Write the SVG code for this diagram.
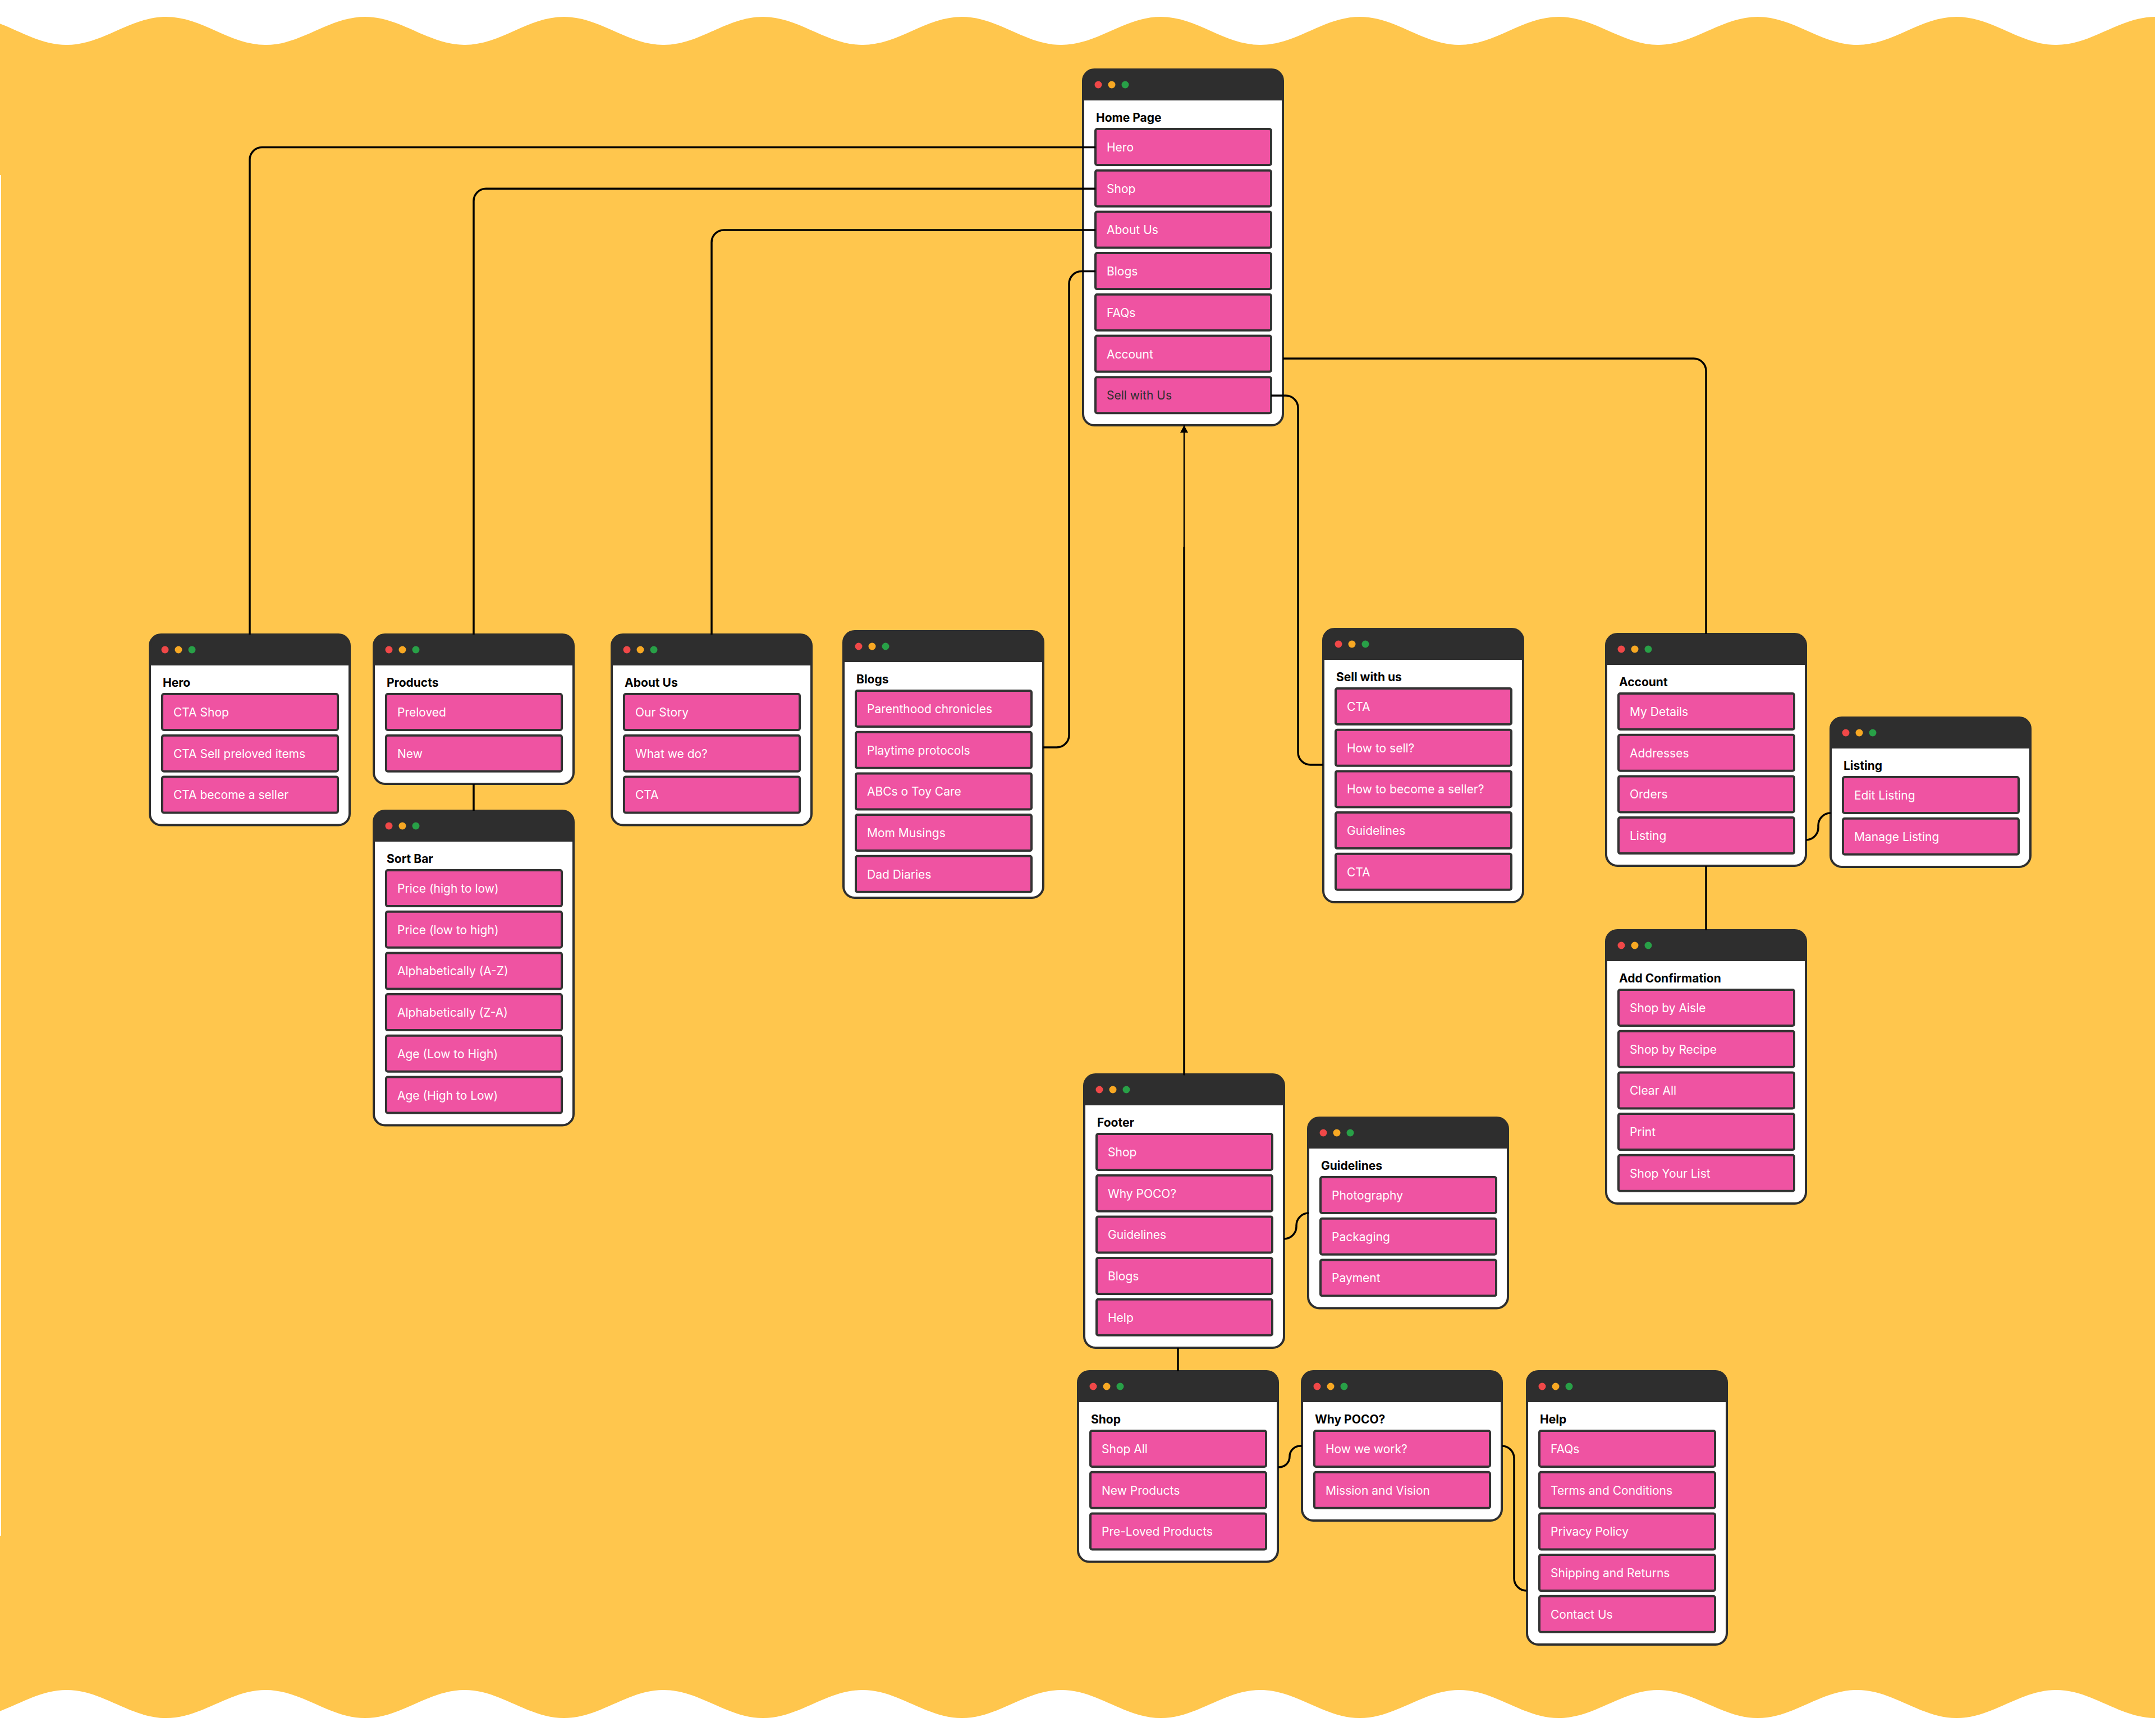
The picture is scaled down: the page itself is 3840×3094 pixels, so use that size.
<svg xmlns="http://www.w3.org/2000/svg" width="3840" height="3094" viewBox="0 0 3840 3094">
<style>
.bg{fill:#FFC64D}
.frame{fill:#fff}
.edge{fill:none;stroke:#2E2E2E;stroke-width:4}
.bar{fill:#2E2E2E}
.r{fill:#F04848}.o{fill:#F7A823}.g{fill:#28A047}
.item{fill:#EF53A2;stroke:#333;stroke-width:4}
.title{font-family:Inter,"Liberation Sans",sans-serif;font-weight:700;font-size:21px;fill:#000}
.label{font-family:Inter,"Liberation Sans",sans-serif;font-size:21px;fill:#fff}
.label.dark{fill:#2E2E2E}
.conn{fill:none;stroke:#000;stroke-width:3.5}
</style>
<defs>
<g id="chrome">
<path class="bar" d="M0,55 V20 A20,20 0 0 1 20,0 H336 A20,20 0 0 1 356,20 V55 Z"/>
<circle class="r" cx="27" cy="27" r="6.5"/>
<circle class="o" cx="51" cy="27" r="6.5"/>
<circle class="g" cx="75" cy="27" r="6.5"/>
</g>
<marker id="arrow" markerUnits="userSpaceOnUse" markerWidth="14" markerHeight="14" viewBox="0 0 14 14" refX="13" refY="7" orient="auto">
<path d="M0,0 L13,7 L0,14 Z" fill="#000"/>
</marker>
</defs>

<path class="bg" d="M -58.5,30 C 5.9,30 54.15,80 118.75,80 S 231.4,30 296,30 S 408.65,80 473.25,80 S 585.9,30 650.5,30 S 763.15,80 827.75,80 S 940.4,30 1005,30 S 1117.65,80 1182.25,80 S 1294.9,30 1359.5,30 S 1472.15,80 1536.75,80 S 1649.4,30 1714,30 S 1826.65,80 1891.25,80 S 2003.9,30 2068.5,30 S 2181.15,80 2245.75,80 S 2358.4,30 2423,30 S 2535.65,80 2600.25,80 S 2712.9,30 2777.5,30 S 2890.15,80 2954.75,80 S 3067.4,30 3132,30 S 3244.65,80 3309.25,80 S 3421.9,30 3486.5,30 S 3599.15,80 3663.75,80 S 3776.4,30 3841,30 S 3953.65,80 4018.25,80 L 4018.25,3012 C 3953.65,3012 3905.6,3062 3841,3062 S 3728.35,3012 3663.75,3012 S 3551.1,3062 3486.5,3062 S 3373.85,3012 3309.25,3012 S 3196.6,3062 3132,3062 S 3019.35,3012 2954.75,3012 S 2842.1,3062 2777.5,3062 S 2664.85,3012 2600.25,3012 S 2487.6,3062 2423,3062 S 2310.35,3012 2245.75,3012 S 2133.1,3062 2068.5,3062 S 1955.85,3012 1891.25,3012 S 1778.6,3062 1714,3062 S 1601.35,3012 1536.75,3012 S 1424.1,3062 1359.5,3062 S 1246.85,3012 1182.25,3012 S 1069.6,3062 1005,3062 S 892.35,3012 827.75,3012 S 715.1,3062 650.5,3062 S 537.85,3012 473.25,3012 S 360.6,3062 296,3062 S 183.35,3012 118.75,3012 S 6.1,3062 -58.5,3062 Z"/>
<rect x="0" y="312" width="2" height="2425" fill="#fff"/>

<g id="node-home" transform="translate(1930,124)">
<rect class="frame" width="356" height="634" rx="20"/><use href="#chrome"/><rect class="edge" width="356" height="634" rx="20"/>
<text class="title" x="23" y="93">Home Page</text>
<rect class="item" x="22" y="106" width="313" height="64" rx="3"/><text class="label" x="42" y="146">Hero</text>
<rect class="item" x="22" y="179.7" width="313" height="64" rx="3"/><text class="label" x="42" y="219.7">Shop</text>
<rect class="item" x="22" y="253.4" width="313" height="64" rx="3"/><text class="label" x="42" y="293.4">About Us</text>
<rect class="item" x="22" y="327.1" width="313" height="64" rx="3"/><text class="label" x="42" y="367.1">Blogs</text>
<rect class="item" x="22" y="400.8" width="313" height="64" rx="3"/><text class="label" x="42" y="440.8">FAQs</text>
<rect class="item" x="22" y="474.5" width="313" height="64" rx="3"/><text class="label" x="42" y="514.5">Account</text>
<rect class="item" x="22" y="548.2" width="313" height="64" rx="3"/><text class="label dark" x="42" y="588.2">Sell with Us</text>
</g>

<g id="node-hero" transform="translate(267,1131)">
<rect class="frame" width="356" height="339.5" rx="20"/><use href="#chrome"/><rect class="edge" width="356" height="339.5" rx="20"/>
<text class="title" x="23" y="93">Hero</text>
<rect class="item" x="22" y="106" width="313" height="64" rx="3"/><text class="label" x="42" y="146">CTA Shop</text>
<rect class="item" x="22" y="179.7" width="313" height="64" rx="3"/><text class="label" x="42" y="219.7">CTA Sell preloved items</text>
<rect class="item" x="22" y="253.4" width="313" height="64" rx="3"/><text class="label" x="42" y="293.4">CTA become a seller</text>
</g>

<g id="node-products" transform="translate(666,1131)">
<rect class="frame" width="356" height="266" rx="20"/><use href="#chrome"/><rect class="edge" width="356" height="266" rx="20"/>
<text class="title" x="23" y="93">Products</text>
<rect class="item" x="22" y="106" width="313" height="64" rx="3"/><text class="label" x="42" y="146">Preloved</text>
<rect class="item" x="22" y="179.7" width="313" height="64" rx="3"/><text class="label" x="42" y="219.7">New</text>
</g>

<g id="node-sortbar" transform="translate(666,1445)">
<rect class="frame" width="356" height="560.5" rx="20"/><use href="#chrome"/><rect class="edge" width="356" height="560.5" rx="20"/>
<text class="title" x="23" y="93">Sort Bar</text>
<rect class="item" x="22" y="106" width="313" height="64" rx="3"/><text class="label" x="42" y="146">Price (high to low)</text>
<rect class="item" x="22" y="179.7" width="313" height="64" rx="3"/><text class="label" x="42" y="219.7">Price (low to high)</text>
<rect class="item" x="22" y="253.4" width="313" height="64" rx="3"/><text class="label" x="42" y="293.4">Alphabetically (A-Z)</text>
<rect class="item" x="22" y="327.1" width="313" height="64" rx="3"/><text class="label" x="42" y="367.1">Alphabetically (Z-A)</text>
<rect class="item" x="22" y="400.8" width="313" height="64" rx="3"/><text class="label" x="42" y="440.8">Age (Low to High)</text>
<rect class="item" x="22" y="474.5" width="313" height="64" rx="3"/><text class="label" x="42" y="514.5">Age (High to Low)</text>
</g>

<g id="node-about" transform="translate(1090,1131)">
<rect class="frame" width="356" height="339.5" rx="20"/><use href="#chrome"/><rect class="edge" width="356" height="339.5" rx="20"/>
<text class="title" x="23" y="93">About Us</text>
<rect class="item" x="22" y="106" width="313" height="64" rx="3"/><text class="label" x="42" y="146">Our Story</text>
<rect class="item" x="22" y="179.7" width="313" height="64" rx="3"/><text class="label" x="42" y="219.7">What we do?</text>
<rect class="item" x="22" y="253.4" width="313" height="64" rx="3"/><text class="label" x="42" y="293.4">CTA</text>
</g>

<g id="node-blogs" transform="translate(1503,1125)">
<rect class="frame" width="356" height="475" rx="20"/><use href="#chrome"/><rect class="edge" width="356" height="475" rx="20"/>
<text class="title" x="23" y="93">Blogs</text>
<rect class="item" x="22" y="106" width="313" height="64" rx="3"/><text class="label" x="42" y="146">Parenthood chronicles</text>
<rect class="item" x="22" y="179.7" width="313" height="64" rx="3"/><text class="label" x="42" y="219.7">Playtime protocols</text>
<rect class="item" x="22" y="253.4" width="313" height="64" rx="3"/><text class="label" x="42" y="293.4">ABCs o Toy Care</text>
<rect class="item" x="22" y="327.1" width="313" height="64" rx="3"/><text class="label" x="42" y="367.1">Mom Musings</text>
<rect class="item" x="22" y="400.8" width="313" height="64" rx="3"/><text class="label" x="42" y="440.8">Dad Diaries</text>
</g>

<g id="node-sell" transform="translate(2358,1121)">
<rect class="frame" width="356" height="487" rx="20"/><use href="#chrome"/><rect class="edge" width="356" height="487" rx="20"/>
<text class="title" x="23" y="93">Sell with us</text>
<rect class="item" x="22" y="106" width="313" height="64" rx="3"/><text class="label" x="42" y="146">CTA</text>
<rect class="item" x="22" y="179.7" width="313" height="64" rx="3"/><text class="label" x="42" y="219.7">How to sell?</text>
<rect class="item" x="22" y="253.4" width="313" height="64" rx="3"/><text class="label" x="42" y="293.4">How to become a seller?</text>
<rect class="item" x="22" y="327.1" width="313" height="64" rx="3"/><text class="label" x="42" y="367.1">Guidelines</text>
<rect class="item" x="22" y="400.8" width="313" height="64" rx="3"/><text class="label" x="42" y="440.8">CTA</text>
</g>

<g id="node-account" transform="translate(2862,1130)">
<rect class="frame" width="356" height="413" rx="20"/><use href="#chrome"/><rect class="edge" width="356" height="413" rx="20"/>
<text class="title" x="23" y="93">Account</text>
<rect class="item" x="22" y="106" width="313" height="64" rx="3"/><text class="label" x="42" y="146">My Details</text>
<rect class="item" x="22" y="179.7" width="313" height="64" rx="3"/><text class="label" x="42" y="219.7">Addresses</text>
<rect class="item" x="22" y="253.4" width="313" height="64" rx="3"/><text class="label" x="42" y="293.4">Orders</text>
<rect class="item" x="22" y="327.1" width="313" height="64" rx="3"/><text class="label" x="42" y="367.1">Listing</text>
</g>

<g id="node-listing" transform="translate(3262,1279)">
<rect class="frame" width="356" height="266" rx="20"/><use href="#chrome"/><rect class="edge" width="356" height="266" rx="20"/>
<text class="title" x="23" y="93">Listing</text>
<rect class="item" x="22" y="106" width="313" height="64" rx="3"/><text class="label" x="42" y="146">Edit Listing</text>
<rect class="item" x="22" y="179.7" width="313" height="64" rx="3"/><text class="label" x="42" y="219.7">Manage Listing</text>
</g>

<g id="node-addconf" transform="translate(2862,1658)">
<rect class="frame" width="356" height="487" rx="20"/><use href="#chrome"/><rect class="edge" width="356" height="487" rx="20"/>
<text class="title" x="23" y="93">Add Confirmation</text>
<rect class="item" x="22" y="106" width="313" height="64" rx="3"/><text class="label" x="42" y="146">Shop by Aisle</text>
<rect class="item" x="22" y="179.7" width="313" height="64" rx="3"/><text class="label" x="42" y="219.7">Shop by Recipe</text>
<rect class="item" x="22" y="253.4" width="313" height="64" rx="3"/><text class="label" x="42" y="293.4">Clear All</text>
<rect class="item" x="22" y="327.1" width="313" height="64" rx="3"/><text class="label" x="42" y="367.1">Print</text>
<rect class="item" x="22" y="400.8" width="313" height="64" rx="3"/><text class="label" x="42" y="440.8">Shop Your List</text>
</g>

<g id="node-footer" transform="translate(1932,1915)">
<rect class="frame" width="356" height="487" rx="20"/><use href="#chrome"/><rect class="edge" width="356" height="487" rx="20"/>
<text class="title" x="23" y="93">Footer</text>
<rect class="item" x="22" y="106" width="313" height="64" rx="3"/><text class="label" x="42" y="146">Shop</text>
<rect class="item" x="22" y="179.7" width="313" height="64" rx="3"/><text class="label" x="42" y="219.7">Why POCO?</text>
<rect class="item" x="22" y="253.4" width="313" height="64" rx="3"/><text class="label" x="42" y="293.4">Guidelines</text>
<rect class="item" x="22" y="327.1" width="313" height="64" rx="3"/><text class="label" x="42" y="367.1">Blogs</text>
<rect class="item" x="22" y="400.8" width="313" height="64" rx="3"/><text class="label" x="42" y="440.8">Help</text>
</g>

<g id="node-guidelines" transform="translate(2331,1992)">
<rect class="frame" width="356" height="339.5" rx="20"/><use href="#chrome"/><rect class="edge" width="356" height="339.5" rx="20"/>
<text class="title" x="23" y="93">Guidelines</text>
<rect class="item" x="22" y="106" width="313" height="64" rx="3"/><text class="label" x="42" y="146">Photography</text>
<rect class="item" x="22" y="179.7" width="313" height="64" rx="3"/><text class="label" x="42" y="219.7">Packaging</text>
<rect class="item" x="22" y="253.4" width="313" height="64" rx="3"/><text class="label" x="42" y="293.4">Payment</text>
</g>

<g id="node-shop" transform="translate(1921,2444)">
<rect class="frame" width="356" height="339.5" rx="20"/><use href="#chrome"/><rect class="edge" width="356" height="339.5" rx="20"/>
<text class="title" x="23" y="93">Shop</text>
<rect class="item" x="22" y="106" width="313" height="64" rx="3"/><text class="label" x="42" y="146">Shop All</text>
<rect class="item" x="22" y="179.7" width="313" height="64" rx="3"/><text class="label" x="42" y="219.7">New Products</text>
<rect class="item" x="22" y="253.4" width="313" height="64" rx="3"/><text class="label" x="42" y="293.4">Pre-Loved Products</text>
</g>

<g id="node-why" transform="translate(2320,2444)">
<rect class="frame" width="356" height="266" rx="20"/><use href="#chrome"/><rect class="edge" width="356" height="266" rx="20"/>
<text class="title" x="23" y="93">Why POCO?</text>
<rect class="item" x="22" y="106" width="313" height="64" rx="3"/><text class="label" x="42" y="146">How we work?</text>
<rect class="item" x="22" y="179.7" width="313" height="64" rx="3"/><text class="label" x="42" y="219.7">Mission and Vision</text>
</g>

<g id="node-help" transform="translate(2721,2444)">
<rect class="frame" width="356" height="487" rx="20"/><use href="#chrome"/><rect class="edge" width="356" height="487" rx="20"/>
<text class="title" x="23" y="93">Help</text>
<rect class="item" x="22" y="106" width="313" height="64" rx="3"/><text class="label" x="42" y="146">FAQs</text>
<rect class="item" x="22" y="179.7" width="313" height="64" rx="3"/><text class="label" x="42" y="219.7">Terms and Conditions</text>
<rect class="item" x="22" y="253.4" width="313" height="64" rx="3"/><text class="label" x="42" y="293.4">Privacy Policy</text>
<rect class="item" x="22" y="327.1" width="313" height="64" rx="3"/><text class="label" x="42" y="367.1">Shipping and Returns</text>
<rect class="item" x="22" y="400.8" width="313" height="64" rx="3"/><text class="label" x="42" y="440.8">Contact Us</text>
</g>

<g id="connectors">
<path class="conn" d="M1952,262.5 H467 A22,22 0 0 0 445,284.5 V1131"/>
<path class="conn" d="M1952,336.2 H866 A22,22 0 0 0 844,358.2 V1131"/>
<path class="conn" d="M1952,409.9 H1290 A22,22 0 0 0 1268,431.9 V1131"/>
<path class="conn" d="M1952,483.6 H1927 A22,22 0 0 0 1905,505.6 V1310 A22,22 0 0 1 1883,1332 H1859"/>
<path class="conn" d="M2265,705 H2291 A22,22 0 0 1 2313,727 V1341 A22,22 0 0 0 2335,1363 H2358"/>
<path class="conn" d="M2286,639 H3018 A22,22 0 0 1 3040,661 V1130"/>
<path class="conn" d="M3218,1497 A22,22 0 0 0 3240,1475 V1471 A22,22 0 0 1 3262,1449"/>
<path class="conn" d="M3040,1543 V1658"/>
<path class="conn" d="M844,1397 V1445"/>
<path class="conn" d="M2288,2208 A22,22 0 0 0 2310,2186 V2184 A22,22 0 0 1 2332,2162"/>
<path class="conn" d="M2099,2402 V2444"/>
<path class="conn" d="M2277,2615 H2279 A19,19 0 0 0 2298,2596 A19,19 0 0 1 2317,2577 H2320"/>
<path class="conn" d="M2676,2577 A22,22 0 0 1 2698,2599 V2813 A22,22 0 0 0 2720,2835"/>
<path class="conn" stroke-linecap="round" d="M2110,1915 V976"/>
<path class="conn" style="stroke-width:2.5" marker-end="url(#arrow)" d="M2110,977 V758"/>
</g>
</svg>
